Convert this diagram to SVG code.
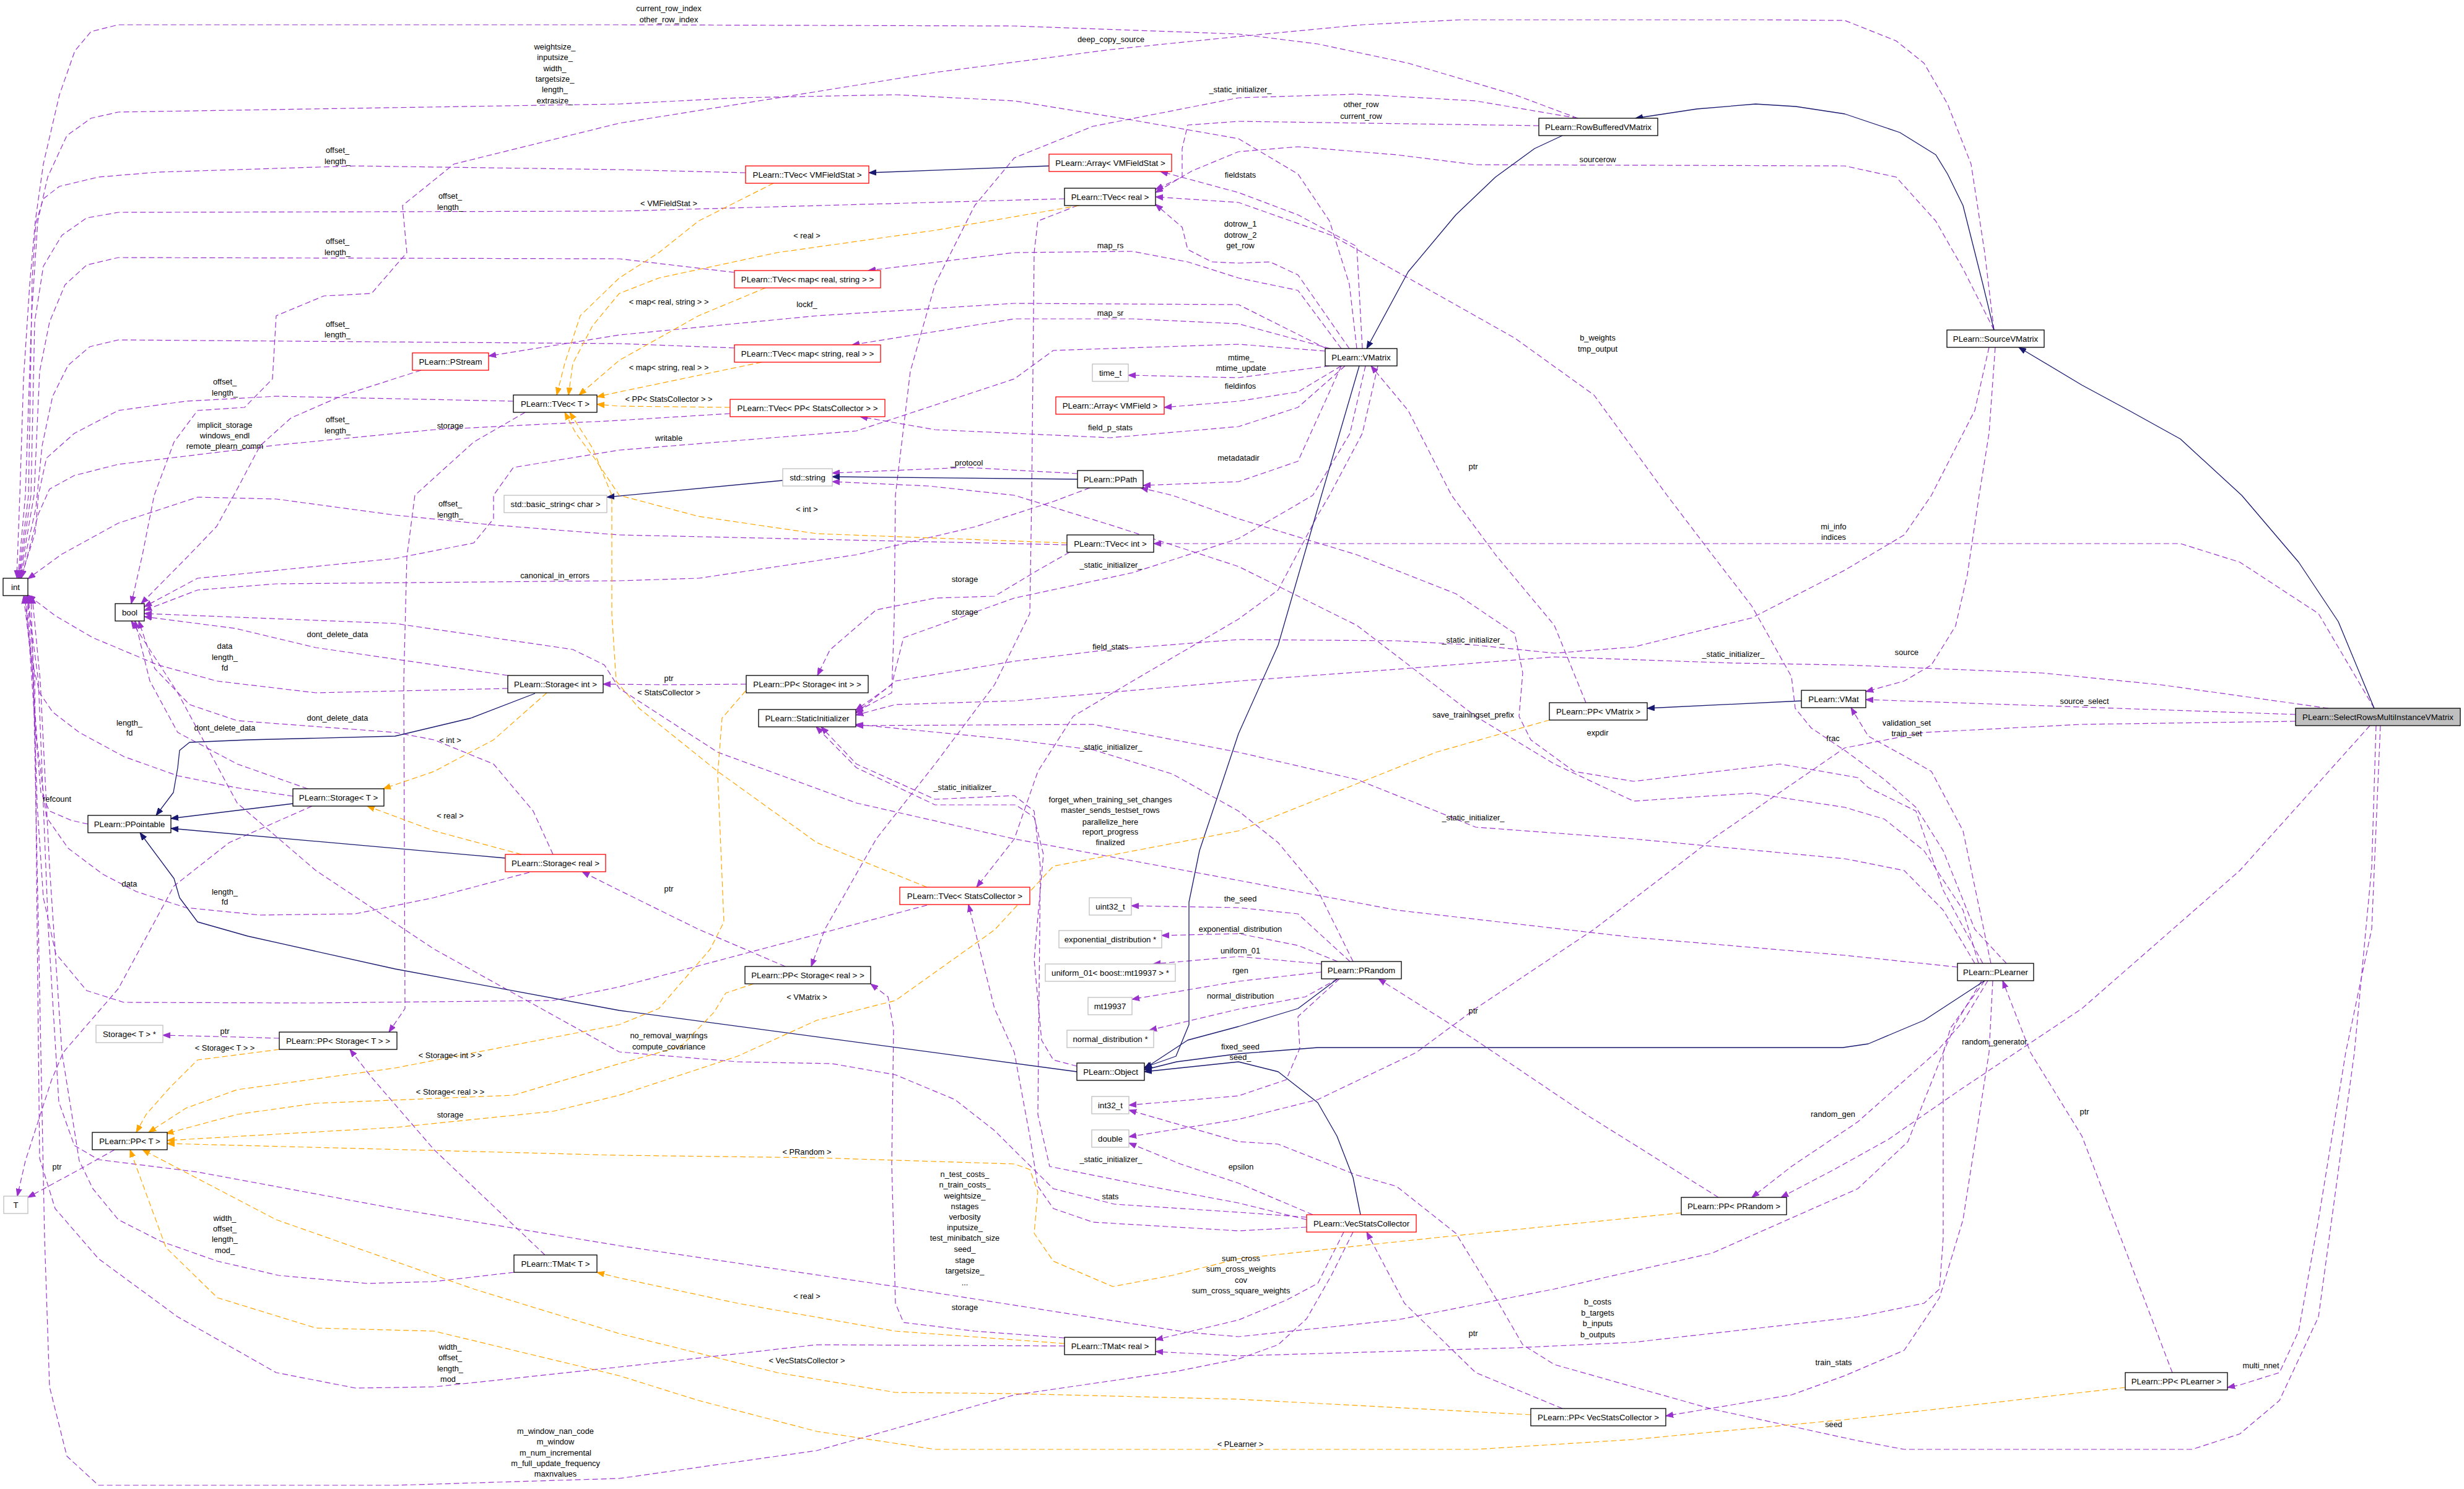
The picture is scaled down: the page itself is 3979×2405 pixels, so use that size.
<svg xmlns="http://www.w3.org/2000/svg" width="3979" height="2405" viewBox="0 0 3979 2405">
<style>
text{font-family:"Liberation Sans",Arial,sans-serif;fill:#000}
.nd text{font-size:13.3px;text-anchor:middle}
.nd rect{stroke-width:1.3}
.bk{fill:#fff;stroke:#000}
.rd{fill:#fff;stroke:#ff0000}
.gy{fill:#fff;stroke:#bfbfbf}
.sel{fill:#bfbfbf;stroke:#000}
.lb text{font-size:12.8px;text-anchor:middle}
.u{fill:none;stroke:#9a32cd;stroke-width:1.2;stroke-dasharray:9,5;stroke-linejoin:round;marker-end:url(#ap)}
.o{fill:none;stroke:#ffa500;stroke-width:1.2;stroke-dasharray:9,5;stroke-linejoin:round;marker-end:url(#ao)}
.h{fill:none;stroke:#191970;stroke-width:1.3;stroke-linejoin:round;marker-end:url(#an)}
</style>
<defs>
<marker id="ap" viewBox="0 0 13 10" refX="12" refY="5" markerWidth="13" markerHeight="10" markerUnits="userSpaceOnUse" orient="auto"><path d="M0,0.5 L12,5 L0,9.5 Z" fill="#9a32cd" stroke="#9a32cd"/></marker>
<marker id="ao" viewBox="0 0 13 10" refX="12" refY="5" markerWidth="13" markerHeight="10" markerUnits="userSpaceOnUse" orient="auto"><path d="M0,0.5 L12,5 L0,9.5 Z" fill="#ffa500" stroke="#ffa500"/></marker>
<marker id="an" viewBox="0 0 13 10" refX="12" refY="5" markerWidth="13" markerHeight="10" markerUnits="userSpaceOnUse" orient="auto"><path d="M0,0.5 L12,5 L0,9.5 Z" fill="#191970" stroke="#191970"/></marker>
</defs>
<rect x="0" y="0" width="3979" height="2405" fill="#fff"/>
<g id="connectors">
<path class="u" d="M2548,191 L2446,153 2274,102 2128,71 2000,55 1638,42 1000,40 191,40 147,51 121,82 96,153 70,265 57,357 48,459 38,612 32,800 27,933"/>
<path class="u" d="M2191,563 L2179,459 2147,357 2096,281 2000,224 1829,194 1638,163 1446,153 1191,158 1000,168 191,181 147,191 108,219 77,286 61,357 51,510 41,800 29,933"/>
<path class="u" d="M1204,279 L1000,274 574,268 255,278 159,286 96,301 70,321 58,360 52,450 46,800 30,933"/>
<path class="u" d="M1719,321 L1000,341 191,343 140,352 100,380 70,430 56,520 50,800 31,933"/>
<path class="u" d="M1186,440 L1000,418 191,416 140,428 105,460 80,520 64,600 55,800 32,933"/>
<path class="u" d="M1186,562 L1000,555 191,549 145,560 110,590 85,640 68,720 58,820 33,933"/>
<path class="u" d="M829,648 L446,640 300,648 191,663 120,700 75,740 62,800 57,860 34,933"/>
<path class="u" d="M1179,668 L1000,679 701,694 446,719 191,750 120,768 80,790 62,830 35,933"/>
<path class="u" d="M1723,880 L1000,864 797,848 638,832 446,806 319,803 191,845 100,895 45,935"/>
<path class="u" d="M820,1112 L510,1119 350,1100 255,1074 150,1030 90,995 45,961"/>
<path class="u" d="M473,1286 L380,1272 287,1253 200,1222 128,1183 85,1150 64,1119 50,1060 38,963"/>
<path class="u" d="M142,1331 L115,1325 80,1310 66,1280 55,1150 42,963"/>
<path class="u" d="M855,1409 L700,1450 574,1476 420,1478 300,1466 220,1440 166,1412 110,1370 75,1320 60,1200 44,963"/>
<path class="u" d="M1497,1462 L1000,1594 893,1616 500,1620 200,1619 140,1600 90,1540 70,1450 60,1300 50,963"/>
<path class="u" d="M830,2055 L700,2070 593,2073 450,2060 351,2037 260,2005 191,1970 150,1920 128,1875 100,1700 80,1400 65,1100 52,963"/>
<path class="u" d="M1719,2174 L1319,2172 1000,2208 701,2240 574,2242 446,2217 287,2127 159,2033 89,1952 64,1871 60,1500 56,1100 46,963"/>
<path class="u" d="M2185,1990 L2150,2060 2110,2130 2064,2172 2000,2195 1900,2215 1638,2253 1319,2343 1000,2388 638,2399 159,2399 108,2352 80,2240 72,2000 64,1600 54,1100 40,963"/>
<path class="u" d="M3200,1584 L3160,1650 3138,1700 3081,1844 3000,1920 2765,2024 2510,2082 2255,2132 2000,2159 1918,2152 1701,2118 1446,2078 1000,2012 638,1952 319,1893 159,1873 120,1850 95,1780 78,1500 62,1100 44,963"/>
<path class="u" d="M3220,533 L3205,408 3183,265 3145,168 3107,102 3062,66 2979,33 2850,32 2357,32 2200,40 2000,59 1794,80 1510,117 1319,148 1000,199 733,265 650,332 657,408 600,474 523,478 446,510 440,612 395,658 319,663 281,714 249,800 230,896 212,975"/>
<path class="u" d="M680,598 L555,638 470,675 420,720 383,790 350,850 306,896 228,975"/>
<path class="u" d="M2140,567 L2000,556 1701,566 1638,612 1383,696 1000,727 829,755 797,800 797,838 765,877 638,902 319,934 233,980"/>
<path class="u" d="M1760,788 L1701,810 1574,851 1383,896 1128,934 1000,938 446,943 319,953 233,986"/>
<path class="u" d="M820,1091 L510,1046 380,1015 233,996"/>
<path class="u" d="M497,1274 L383,1234 287,1183 242,1100 218,1003"/>
<path class="u" d="M893,1380 L861,1310 797,1234 701,1195 638,1183 383,1164 306,1138 250,1080 224,1003"/>
<path class="u" d="M3161,1562 L2979,1543 2638,1514 2255,1470 2000,1422 1638,1355 1383,1297 1159,1215 1000,1112 976,1074 925,1049 638,1007 233,991"/>
<path class="u" d="M2110,1966 L2000,1958 1800,1945 1701,1920 1640,1860 1606,1826 1542,1776 1446,1736 1344,1718 1191,1715 1000,1699 701,1533 510,1406 383,1297 287,1119 212,1003"/>
<path class="u" d="M185,1857 L128,1889 80,1915 45,1934"/>
<path class="u" d="M504,1302 L370,1361 281,1431 191,1597 102,1700 83,1745 41,1875 28,1932"/>
<path class="u" d="M451,1677 L383,1675 263,1672"/>
<path class="u" d="M1205,1105 L1080,1106 974,1105"/>
<path class="u" d="M1268,1561 L1128,1501 1000,1438 940,1408"/>
<path class="u" d="M848,666 L765,714 670,800 657,900 652,1100 654,1629 628,1667"/>
<path class="u" d="M880,2027 L701,1857 600,1740 565,1695"/>
<path class="u" d="M1719,2161 L1574,2150 1459,2136 1446,2105 1440,1880 1443,1661 1434,1610 1406,1589"/>
<path class="u" d="M1727,892 L1676,921 1606,963 1510,966 1415,985 1340,1050 1320,1091"/>
<path class="u" d="M1740,332 L1676,357 1670,408 1666,800 1663,991 1606,1106 1510,1234 1415,1355 1332,1501 1310,1561"/>
<path class="u" d="M2142,563 L2000,492 1638,490 1319,510 1000,541 789,575"/>
<path class="u" d="M2148,563 L2000,523 1829,515 1638,515 1376,557"/>
<path class="u" d="M2166,563 L2096,469 2000,449 1918,423 1829,406 1638,408 1402,437"/>
<path class="u" d="M2179,563 L2096,444 2051,423 2000,425 1957,423 1918,403 1909,367 1866,330"/>
<path class="u" d="M2200,563 L2191,398 2096,347 2000,311 1874,277"/>
<path class="u" d="M2147,591 L2000,610 1822,606"/>
<path class="u" d="M2166,591 L2096,633 2000,648 1880,658"/>
<path class="u" d="M2172,591 L2096,658 2000,689 1793,707 1510,694 1389,673"/>
<path class="u" d="M2166,591 L2096,745 2000,778 1846,784"/>
<path class="u" d="M2225,591 L2200,700 2147,800 2128,832 2064,953 2000,1000 1829,1100 1733,1157 1676,1246 1638,1355 1577,1433"/>
<path class="u" d="M2205,591 L2180,700 2120,800 2000,870 1829,925 1638,966 1459,1030 1440,1106 1382,1147"/>
<path class="u" d="M2548,191 L2383,163 2191,152 2000,158 1765,204 1638,255 1574,332 1510,459 1470,600 1446,800 1444,1000 1440,1119 1382,1150"/>
<path class="u" d="M2485,203 L2000,196 1918,202 1909,240 1909,286 1866,306"/>
<path class="u" d="M3220,533 L3170,434 3126,357 3062,286 2979,268 2383,266 2255,250 2096,237 2000,245 1925,276 1866,311"/>
<path class="u" d="M3222,561 L3212,700 3196,800 3177,928 3158,1011 3119,1074 3075,1100 3013,1117"/>
<path class="u" d="M3212,561 L3189,663 3119,800 3075,864 2979,921 2829,998 2638,1045 2510,1055 2383,1042 2255,1035 2000,1033 1793,1049 1638,1068 1446,1100 1382,1152"/>
<path class="u" d="M3834,1144 L3744,991 3617,908 3521,878 1863,878"/>
<path class="u" d="M3707,1154 L3013,1130"/>
<path class="u" d="M3760,1144 L3489,1106 3298,1087 2979,1074 2799,1071 2510,1061 2255,1081 2000,1100 1638,1132 1446,1138 1382,1155"/>
<path class="u" d="M3707,1165 L3362,1170 3107,1183 2979,1208 2765,1355 2574,1501 2383,1629 2287,1700 2128,1776 2000,1808 1823,1836"/>
<path class="u" d="M3827,1172 L3617,1406 3362,1629 3170,1757 3050,1840 2960,1890 2876,1934"/>
<path class="u" d="M3837,1172 L3830,1400 3802,1700 3744,2127 3681,2262 3617,2316 3540,2341 3075,2341 3000,2327 2765,2276 2510,2204 2459,2172 2415,2096 2351,1992 2255,1916 2191,1898 2064,1848 2000,1844 1823,1793"/>
<path class="u" d="M3844,1172 L3830,1500 3788,1700 3744,1970 3712,2150 3681,2217 3617,2237 3597,2241"/>
<path class="u" d="M3215,1556 L3170,1342 3119,1246 3075,1221 3017,1189 2989,1143"/>
<path class="u" d="M3240,1556 L3189,1501 3138,1374 3094,1304 3043,1259 2979,1212 2925,1176 2899,1144 2893,1093 2829,979 2765,896 2692,800 2574,638 2446,546 2274,449 2150,380 2000,327 1866,318"/>
<path class="u" d="M3202,1556 L3138,1438 3094,1310 3017,1272 3000,1256 2874,1234 2638,1262 2542,1246 2472,1195 2453,1157 2459,1087 2446,1023 2351,959 2191,896 2000,838 1893,800 1842,788"/>
<path class="u" d="M3195,1556 L3170,1470 3107,1374 3043,1323 2979,1304 2829,1281 2638,1294 2510,1234 2383,1157 2191,1010 2000,915 1800,850 1638,800 1500,785 1344,778"/>
<path class="u" d="M3189,1556 L3138,1470 3075,1406 2979,1387 2638,1355 2383,1336 2319,1310 2191,1259 2000,1215 1765,1170 1382,1172"/>
<path class="u" d="M3210,1584 L3170,1650 3126,1700 3000,1812 2893,1884 2829,1934"/>
<path class="u" d="M3218,1584 L3212,1700 3170,1970 3132,2096 3075,2181 2979,2222 2893,2253 2690,2287"/>
<path class="u" d="M3205,1584 L3150,1660 3138,1700 3138,2000 3132,2082 3107,2105 3000,2127 2638,2168 2446,2177 2000,2190 1866,2183"/>
<path class="u" d="M3508,2217 L3362,1835 3279,1700 3234,1584"/>
<path class="u" d="M2180,1553 L2096,1476 2000,1466 1827,1463"/>
<path class="u" d="M2160,1553 L2096,1527 2000,1508 1876,1511"/>
<path class="u" d="M2134,1557 L2000,1545 1862,1557"/>
<path class="u" d="M2134,1570 L2000,1585 1828,1614"/>
<path class="u" d="M2160,1581 L2108,1610 2000,1630 1856,1664"/>
<path class="u" d="M2163,1581 L2096,1642 2099,1693 2077,1744 2000,1770 1823,1785"/>
<path class="u" d="M2185,1553 L2128,1438 2064,1361 2000,1310 1893,1250 1765,1211 1638,1195 1382,1170"/>
<path class="u" d="M2775,1934 L2638,1848 2561,1800 2383,1680 2226,1581"/>
<path class="u" d="M2120,1962 L2000,1911 1906,1880 1823,1846"/>
<path class="u" d="M2110,1982 L2000,1988 1765,1974 1701,1952 1676,1916 1663,1835 1638,1700 1606,1629 1564,1461"/>
<path class="u" d="M2110,1970 L2000,1943 1829,1911 1695,1884 1676,1800 1680,1400 1670,1310 1638,1285 1510,1291 1383,1234 1326,1174"/>
<path class="u" d="M2170,1990 L2128,2073 2077,2100 2000,2132 1866,2164"/>
<path class="u" d="M2523,2275 L2383,2217 2268,2105 2207,1990"/>
<path class="u" d="M1739,1722 L1701,1712 1682,1680 1670,1550 1685,1380 1670,1320 1640,1300 1510,1300 1383,1240 1318,1174"/>
<path class="u" d="M2561,1135 L2510,1010 2415,896 2344,800 2274,663 2214,591"/>
<path class="u" d="M1740,765 L1561,755 1344,764"/>
<path class="h" d="M2523,219 L2478,240 2415,286 2351,347 2274,439 2207,563"/>
<path class="h" d="M3220,533 L3202,459 3170,332 3145,281 3126,250 3068,214 2979,184 2900,172 2835,168 2740,176 2641,191"/>
<path class="h" d="M3834,1144 L3776,1004 3712,908 3620,800 3521,709 3438,663 3362,622 3260,561"/>
<path class="h" d="M2195,591 L2134,800 2064,1042 2000,1185 1937,1374 1920,1457 1920,1655 1899,1706 1848,1724"/>
<path class="h" d="M2160,1581 L2096,1629 2000,1658 1918,1680 1880,1705 1848,1726"/>
<path class="h" d="M3205,1584 L3107,1648 3017,1686 2976,1692 2128,1692 2000,1702 1900,1715 1848,1728"/>
<path class="h" d="M2197,1962 L2185,1902 2159,1835 2128,1781 2064,1731 2000,1715 1848,1731"/>
<path class="h" d="M473,1298 L276,1322"/>
<path class="h" d="M816,1386 L276,1338"/>
<path class="h" d="M864,1120 L760,1160 638,1189 400,1195 306,1199 290,1212 287,1240 280,1280 252,1317"/>
<path class="h" d="M1739,1731 L1000,1632 638,1565 400,1512 319,1489 290,1450 281,1419 226,1345"/>
<path class="h" d="M1264,776 L980,803"/>
<path class="h" d="M1740,774 L1344,770"/>
<path class="h" d="M1694,268 L1403,279"/>
<path class="h" d="M2909,1132 L2660,1144"/>
<path class="o" d="M1249,296 L1128,357 1064,408 1000,449 937,510 912,587 899,638"/>
<path class="o" d="M1743,332 L1510,372 1255,408 1064,449 1000,474 957,526 925,587 918,638"/>
<path class="o" d="M1236,465 L1128,510 1000,582 935,638"/>
<path class="o" d="M1230,585 L1000,633 964,641"/>
<path class="o" d="M1179,658 L1000,656 964,653"/>
<path class="o" d="M1723,877 L1319,862 1128,834 1000,800 960,740 930,700 912,666"/>
<path class="o" d="M1497,1433 L1319,1361 1159,1246 1032,1144 995,1100 988,991 988,800 957,724 920,666"/>
<path class="o" d="M883,1119 L797,1195 701,1246 619,1274"/>
<path class="o" d="M842,1380 L701,1342 593,1302"/>
<path class="o" d="M451,1695 L319,1712 274,1757 236,1800 220,1829"/>
<path class="o" d="M1204,1116 L1166,1160 1159,1250 1169,1489 1147,1533 1064,1629 1000,1655 638,1725 383,1760 300,1790 240,1829"/>
<path class="o" d="M1217,1589 L1172,1604 1153,1635 1100,1690 1000,1718 829,1769 510,1782 383,1800 268,1831"/>
<path class="o" d="M2502,1163 L2319,1215 2000,1342 1701,1399 1606,1502 1446,1616 1319,1648 1191,1706 1000,1769 893,1795 638,1821 270,1842"/>
<path class="o" d="M2715,1959 L2319,1999 2000,2033 1893,2060 1797,2078 1701,2037 1670,1992 1676,1925 1663,1889 1638,1880 1319,1870 1000,1866 270,1847"/>
<path class="o" d="M2472,2285 L2000,2260 1638,2251 1446,2249 1255,2217 1000,2154 765,2082 446,1970 230,1857"/>
<path class="o" d="M3432,2241 L2979,2293 2638,2325 2383,2341 2000,2341 1510,2341 1319,2312 1128,2262 1000,2222 701,2150 510,2145 351,2096 268,2015 210,1857"/>
<path class="o" d="M1719,2170 L1446,2150 1191,2105 1000,2064 964,2055"/>
</g>
<g id="edge-labels" class="lb">
<text x="1080" y="17.5">current_row_index<tspan x="1080" dy="18">other_row_index</tspan></text>
<text x="1794" y="67.5">deep_copy_source</text>
<text x="896" y="80">weightsize_<tspan x="896" dy="17.3">inputsize_</tspan><tspan x="896" dy="17.3">width_</tspan><tspan x="896" dy="17.3">targetsize_</tspan><tspan x="896" dy="17.3">length_</tspan><tspan x="896" dy="17.3">extrasize_</tspan></text>
<text x="2003" y="148.5">_static_initializer_</text>
<text x="2198" y="172.5">other_row<tspan x="2198" dy="19">current_row</tspan></text>
<text x="545" y="246.5">offset_<tspan x="545" dy="18">length_</tspan></text>
<text x="2003" y="286.5">fieldstats</text>
<text x="2580" y="261.5">sourcerow</text>
<text x="727" y="320.5">offset_<tspan x="727" dy="18">length_</tspan></text>
<text x="1080" y="332.5">&lt; VMFieldStat &gt;</text>
<text x="2003" y="365.5">dotrow_1<tspan x="2003" dy="18">dotrow_2</tspan><tspan x="2003" dy="17">get_row</tspan></text>
<text x="1303" y="384.5">&lt; real &gt;</text>
<text x="1793" y="400.5">map_rs</text>
<text x="545" y="393.5">offset_<tspan x="545" dy="18">length_</tspan></text>
<text x="1080" y="491.5">&lt; map&lt; real, string &gt; &gt;</text>
<text x="1303" y="495.5">lockf_</text>
<text x="1793" y="509.5">map_sr</text>
<text x="545" y="527.5">offset_<tspan x="545" dy="17">length_</tspan></text>
<text x="2004" y="581.5">mtime_<tspan x="2004" dy="17">mtime_update</tspan></text>
<text x="1080" y="597.5">&lt; map&lt; string, real &gt; &gt;</text>
<text x="363" y="620.5">offset_<tspan x="363" dy="18">length_</tspan></text>
<text x="2003" y="627.5">fieldinfos</text>
<text x="1080" y="648.5">&lt; PP&lt; StatsCollector &gt; &gt;</text>
<text x="545" y="681.5">offset_<tspan x="545" dy="18">length_</tspan></text>
<text x="727" y="691.5">storage</text>
<text x="363" y="690.5">implicit_storage<tspan x="363" dy="17.5">windows_endl</tspan><tspan x="363" dy="17">remote_plearn_comm</tspan></text>
<text x="1793" y="694.5">field_p_stats</text>
<text x="1080" y="711.5">writable</text>
<text x="2000" y="743.5">metadatadir</text>
<text x="1561" y="751.5">_protocol</text>
<text x="2379" y="757.5">ptr</text>
<text x="2580" y="549.5">b_weights<tspan x="2580" dy="18">tmp_output</tspan></text>
<text x="727" y="817.5">offset_<tspan x="727" dy="18">length_</tspan></text>
<text x="1303" y="826.5">&lt; int &gt;</text>
<text x="2961" y="854.5">mi_info<tspan x="2961" dy="17">indices</tspan></text>
<text x="1794" y="916.5">_static_initializer_</text>
<text x="896" y="933.5">canonical_in_errors</text>
<text x="1558" y="939.5">storage</text>
<text x="1558" y="992.5">storage</text>
<text x="545" y="1028.5">dont_delete_data</text>
<text x="2379" y="1037.5">_static_initializer_</text>
<text x="363" y="1047.5">data<tspan x="363" dy="18">length_</tspan><tspan x="363" dy="17">fd</tspan></text>
<text x="1793" y="1048.5">field_stats</text>
<text x="3079" y="1057.5">source</text>
<text x="2799" y="1060.5">_static_initializer_</text>
<text x="1080" y="1099.5">ptr</text>
<text x="1080" y="1122.5">&lt; StatsCollector &gt;</text>
<text x="3366" y="1136.5">source_select</text>
<text x="2379" y="1158.5">save_trainingset_prefix</text>
<text x="545" y="1163.5">dont_delete_data</text>
<text x="3079" y="1171.5">validation_set<tspan x="3079" dy="17">train_set</tspan></text>
<text x="209" y="1171.5">length_<tspan x="209" dy="16">fd</tspan></text>
<text x="363" y="1179.5">dont_delete_data</text>
<text x="2580" y="1187.5">expdir</text>
<text x="2960" y="1196.5">frac</text>
<text x="727" y="1199.5">&lt; int &gt;</text>
<text x="1794" y="1210.5">_static_initializer_</text>
<text x="1558" y="1275.5">_static_initializer_</text>
<text x="92" y="1294.5">refcount</text>
<text x="1793" y="1295.5">forget_when_training_set_changes<tspan x="1793" dy="17">master_sends_testset_rows</tspan><tspan x="1793" dy="19">parallelize_here</tspan><tspan x="1793" dy="16">report_progress</tspan><tspan x="1793" dy="17">finalized</tspan></text>
<text x="727" y="1321.5">&lt; real &gt;</text>
<text x="2379" y="1324.5">_static_initializer_</text>
<text x="209" y="1431.5">data</text>
<text x="1080" y="1439.5">ptr</text>
<text x="363" y="1444.5">length_<tspan x="363" dy="16">fd</tspan></text>
<text x="2003" y="1455.5">the_seed</text>
<text x="2003" y="1504.5">exponential_distribution</text>
<text x="2003" y="1539.5">uniform_01</text>
<text x="2003" y="1571.5">rgen</text>
<text x="2003" y="1612.5">normal_distribution</text>
<text x="1303" y="1614.5">&lt; VMatrix &gt;</text>
<text x="2379" y="1636.5">ptr</text>
<text x="363" y="1669.5">ptr</text>
<text x="1080" y="1676.5">no_removal_warnings<tspan x="1080" dy="18">compute_covariance</tspan></text>
<text x="2003" y="1694.5">fixed_seed<tspan x="2003" dy="17">seed_</tspan></text>
<text x="3221" y="1686.5">random_generator</text>
<text x="363" y="1696.5">&lt; Storage&lt; T &gt; &gt;</text>
<text x="727" y="1708.5">&lt; Storage&lt; int &gt; &gt;</text>
<text x="727" y="1767.5">&lt; Storage&lt; real &gt; &gt;</text>
<text x="3366" y="1799.5">ptr</text>
<text x="2960" y="1803.5">random_gen</text>
<text x="727" y="1804.5">storage</text>
<text x="1303" y="1864.5">&lt; PRandom &gt;</text>
<text x="1794" y="1876.5">_static_initializer_</text>
<text x="2004" y="1888.5">epsilon</text>
<text x="92" y="1888.5">ptr</text>
<text x="1558" y="1900.5">n_test_costs_<tspan x="1558" dy="17">n_train_costs_</tspan><tspan x="1558" dy="18">weightsize_</tspan><tspan x="1558" dy="17">nstages</tspan><tspan x="1558" dy="17">verbosity</tspan><tspan x="1558" dy="17">inputsize_</tspan><tspan x="1558" dy="17">test_minibatch_size</tspan><tspan x="1558" dy="18">seed_</tspan><tspan x="1558" dy="18">stage</tspan><tspan x="1558" dy="17">targetsize_</tspan><tspan x="1558" dy="19">...</tspan></text>
<text x="1793" y="1936.5">stats</text>
<text x="363" y="1971.5">width_<tspan x="363" dy="17">offset_</tspan><tspan x="363" dy="17">length_</tspan><tspan x="363" dy="18">mod_</tspan></text>
<text x="2004" y="2036.5">sum_cross<tspan x="2004" dy="17">sum_cross_weights</tspan><tspan x="2004" dy="18">cov</tspan><tspan x="2004" dy="17">sum_cross_square_weights</tspan></text>
<text x="1303" y="2097.5">&lt; real &gt;</text>
<text x="2580" y="2106.5">b_costs<tspan x="2580" dy="18">b_targets</tspan><tspan x="2580" dy="17">b_inputs</tspan><tspan x="2580" dy="18">b_outputs</tspan></text>
<text x="1558" y="2115.5">storage</text>
<text x="2379" y="2157.5">ptr</text>
<text x="727" y="2179.5">width_<tspan x="727" dy="17">offset_</tspan><tspan x="727" dy="18">length_</tspan><tspan x="727" dy="17">mod_</tspan></text>
<text x="1303" y="2201.5">&lt; VecStatsCollector &gt;</text>
<text x="2961" y="2204.5">train_stats</text>
<text x="3651" y="2209.5">multi_nnet</text>
<text x="2961" y="2304.5">seed</text>
<text x="897" y="2316">m_window_nan_code<tspan x="897" dy="17">m_window</tspan><tspan x="897" dy="17.5">m_num_incremental</tspan><tspan x="897" dy="17">m_full_update_frequency</tspan><tspan x="897" dy="17.5">maxnvalues</tspan></text>
<text x="2003" y="2336.5">&lt; PLearner &gt;</text>
</g>
<g id="n_int" class="nd"><rect class="bk" x="5" y="934" width="40" height="28"/><text x="25" y="952.8">int</text></g>
<g id="n_bool" class="nd"><rect class="bk" x="186" y="975" width="47" height="28"/><text x="209.5" y="993.8">bool</text></g>
<g id="n_T" class="nd"><rect class="gy" x="6" y="1932" width="39" height="28"/><text x="25.5" y="1950.8">T</text></g>
<g id="n_PPointable" class="nd"><rect class="bk" x="142" y="1317" width="134" height="28"/><text x="209" y="1335.8">PLearn::PPointable</text></g>
<g id="n_PP_T" class="nd"><rect class="bk" x="149" y="1829" width="121" height="28"/><text x="209.5" y="1847.8">PLearn::PP&lt; T &gt;</text></g>
<g id="n_StorageTptr" class="nd"><rect class="gy" x="155" y="1656" width="108" height="28"/><text x="209" y="1674.8">Storage&lt; T &gt; *</text></g>
<g id="n_Storage_T" class="nd"><rect class="bk" x="473" y="1274" width="147" height="28"/><text x="546.5" y="1292.8">PLearn::Storage&lt; T &gt;</text></g>
<g id="n_PP_Storage_T" class="nd"><rect class="bk" x="451" y="1667" width="190" height="28"/><text x="546" y="1685.8">PLearn::PP&lt; Storage&lt; T &gt; &gt;</text></g>
<g id="n_TMat_T" class="nd"><rect class="bk" x="830" y="2027" width="134" height="28"/><text x="897" y="2045.8">PLearn::TMat&lt; T &gt;</text></g>
<g id="n_Storage_int" class="nd"><rect class="bk" x="820" y="1091" width="154" height="28"/><text x="897" y="1109.8">PLearn::Storage&lt; int &gt;</text></g>
<g id="n_Storage_real" class="nd"><rect class="rd" x="816" y="1380" width="162" height="28"/><text x="897" y="1398.8">PLearn::Storage&lt; real &gt;</text></g>
<g id="n_PStream" class="nd"><rect class="rd" x="666" y="570" width="123" height="28"/><text x="727.5" y="588.8">PLearn::PStream</text></g>
<g id="n_TVec_T" class="nd"><rect class="bk" x="829" y="638" width="135" height="28"/><text x="896.5" y="656.8">PLearn::TVec&lt; T &gt;</text></g>
<g id="n_basic_string" class="nd"><rect class="gy" x="814" y="800" width="166" height="28"/><text x="897" y="818.8">std::basic_string&lt; char &gt;</text></g>
<g id="n_TVec_VMFieldStat" class="nd"><rect class="rd" x="1204" y="268" width="199" height="28"/><text x="1303.5" y="286.8">PLearn::TVec&lt; VMFieldStat &gt;</text></g>
<g id="n_TVec_map_rs" class="nd"><rect class="rd" x="1186" y="437" width="236" height="28"/><text x="1304" y="455.8">PLearn::TVec&lt; map&lt; real, string &gt; &gt;</text></g>
<g id="n_TVec_map_sr" class="nd"><rect class="rd" x="1186" y="557" width="236" height="28"/><text x="1304" y="575.8">PLearn::TVec&lt; map&lt; string, real &gt; &gt;</text></g>
<g id="n_TVec_PP_SC" class="nd"><rect class="rd" x="1179" y="645" width="250" height="28"/><text x="1304" y="663.8">PLearn::TVec&lt; PP&lt; StatsCollector &gt; &gt;</text></g>
<g id="n_string" class="nd"><rect class="gy" x="1264" y="757" width="80" height="28"/><text x="1304" y="775.8">std::string</text></g>
<g id="n_PP_Storage_int" class="nd"><rect class="bk" x="1205" y="1091" width="197" height="28"/><text x="1303.5" y="1109.8">PLearn::PP&lt; Storage&lt; int &gt; &gt;</text></g>
<g id="n_StaticInitializer" class="nd"><rect class="bk" x="1225" y="1146" width="157" height="28"/><text x="1303.5" y="1164.8">PLearn::StaticInitializer</text></g>
<g id="n_PP_Storage_real" class="nd"><rect class="bk" x="1203" y="1561" width="203" height="28"/><text x="1304.5" y="1579.8">PLearn::PP&lt; Storage&lt; real &gt; &gt;</text></g>
<g id="n_TVec_SC" class="nd"><rect class="rd" x="1453" y="1433" width="210" height="28"/><text x="1558" y="1451.8">PLearn::TVec&lt; StatsCollector &gt;</text></g>
<g id="n_Array_VMFieldStat" class="nd"><rect class="rd" x="1694" y="249" width="198" height="28"/><text x="1793" y="267.8">PLearn::Array&lt; VMFieldStat &gt;</text></g>
<g id="n_TVec_real" class="nd"><rect class="bk" x="1719" y="304" width="147" height="28"/><text x="1792.5" y="322.8">PLearn::TVec&lt; real &gt;</text></g>
<g id="n_time_t" class="nd"><rect class="gy" x="1764" y="588" width="58" height="28"/><text x="1793" y="606.8">time_t</text></g>
<g id="n_Array_VMField" class="nd"><rect class="rd" x="1705" y="641" width="175" height="28"/><text x="1792.5" y="659.8">PLearn::Array&lt; VMField &gt;</text></g>
<g id="n_PPath" class="nd"><rect class="bk" x="1740" y="760" width="106" height="28"/><text x="1793" y="778.8">PLearn::PPath</text></g>
<g id="n_TVec_int" class="nd"><rect class="bk" x="1723" y="864" width="140" height="28"/><text x="1793" y="882.8">PLearn::TVec&lt; int &gt;</text></g>
<g id="n_uint32_t" class="nd"><rect class="gy" x="1759" y="1450" width="68" height="28"/><text x="1793" y="1468.8">uint32_t</text></g>
<g id="n_exp_dist" class="nd"><rect class="gy" x="1710" y="1503" width="166" height="28"/><text x="1793" y="1521.8">exponential_distribution *</text></g>
<g id="n_uniform_01" class="nd"><rect class="gy" x="1688" y="1557" width="210" height="28"/><text x="1793" y="1575.8">uniform_01&lt; boost::mt19937 &gt; *</text></g>
<g id="n_mt19937" class="nd"><rect class="gy" x="1757" y="1611" width="71" height="28"/><text x="1792.5" y="1629.8">mt19937</text></g>
<g id="n_normal_dist" class="nd"><rect class="gy" x="1723" y="1664" width="140" height="28"/><text x="1793" y="1682.8">normal_distribution *</text></g>
<g id="n_Object" class="nd"><rect class="bk" x="1739" y="1717" width="109" height="28"/><text x="1793.5" y="1735.8">PLearn::Object</text></g>
<g id="n_int32_t" class="nd"><rect class="gy" x="1763" y="1771" width="60" height="28"/><text x="1793" y="1789.8">int32_t</text></g>
<g id="n_double" class="nd"><rect class="gy" x="1763" y="1825" width="60" height="28"/><text x="1793" y="1843.8">double</text></g>
<g id="n_TMat_real" class="nd"><rect class="bk" x="1719" y="2160" width="147" height="28"/><text x="1792.5" y="2178.8">PLearn::TMat&lt; real &gt;</text></g>
<g id="n_RowBufferedVMatrix" class="nd"><rect class="bk" x="2485" y="191" width="192" height="28"/><text x="2581" y="209.8">PLearn::RowBufferedVMatrix</text></g>
<g id="n_VMatrix" class="nd"><rect class="bk" x="2140" y="563" width="116" height="28"/><text x="2198" y="581.8">PLearn::VMatrix</text></g>
<g id="n_PP_VMatrix" class="nd"><rect class="bk" x="2502" y="1135" width="158" height="28"/><text x="2581" y="1153.8">PLearn::PP&lt; VMatrix &gt;</text></g>
<g id="n_PRandom" class="nd"><rect class="bk" x="2134" y="1553" width="129" height="28"/><text x="2198.5" y="1571.8">PLearn::PRandom</text></g>
<g id="n_VecStatsCollector" class="nd"><rect class="rd" x="2110" y="1962" width="177" height="28"/><text x="2198.5" y="1980.8">PLearn::VecStatsCollector</text></g>
<g id="n_PP_PRandom" class="nd"><rect class="bk" x="2715" y="1934" width="170" height="28"/><text x="2800" y="1952.8">PLearn::PP&lt; PRandom &gt;</text></g>
<g id="n_PP_VSC" class="nd"><rect class="bk" x="2472" y="2275" width="218" height="28"/><text x="2581" y="2293.8">PLearn::PP&lt; VecStatsCollector &gt;</text></g>
<g id="n_VMat" class="nd"><rect class="bk" x="2909" y="1115" width="104" height="28"/><text x="2961" y="1133.8">PLearn::VMat</text></g>
<g id="n_SourceVMatrix" class="nd"><rect class="bk" x="3144" y="533" width="157" height="28"/><text x="3222.5" y="551.8">PLearn::SourceVMatrix</text></g>
<g id="n_PLearner" class="nd"><rect class="bk" x="3161" y="1556" width="123" height="28"/><text x="3222.5" y="1574.8">PLearn::PLearner</text></g>
<g id="n_PP_PLearner" class="nd"><rect class="bk" x="3432" y="2217" width="165" height="28"/><text x="3514.5" y="2235.8">PLearn::PP&lt; PLearner &gt;</text></g>
<g id="n_SelectRowsMultiInstanceVMatrix" class="nd"><rect class="sel" x="3707" y="1144" width="266" height="28"/><text x="3840" y="1162.8">PLearn::SelectRowsMultiInstanceVMatrix</text></g>
</svg>
